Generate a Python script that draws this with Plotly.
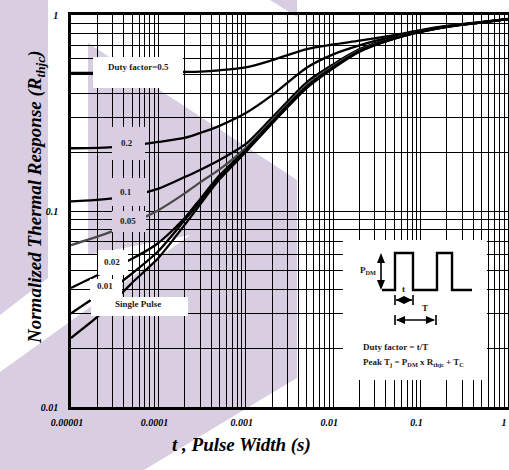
import plotly.graph_objects as go

# pulse width (s) sample points shared by all curves
t = [1e-5, 2e-5, 3e-5, 5e-5, 1e-4, 2e-4, 3e-4, 5e-4, 1e-3, 2e-3,
     5e-3, 1e-2, 2e-2, 5e-2, 0.1, 0.2, 0.5, 1.0]

z_05 = [0.506, 0.506, 0.507, 0.508, 0.51, 0.512, 0.514, 0.522, 0.54, 0.588,
        0.67, 0.707, 0.74, 0.79, 0.838, 0.879, 0.921, 0.954]
z_02 = [0.209, 0.21, 0.212, 0.216, 0.225, 0.236, 0.25, 0.272, 0.316, 0.39,
        0.54, 0.63, 0.70, 0.78, 0.832, 0.877, 0.919, 0.953]
z_01 = [0.112, 0.114, 0.116, 0.12, 0.13, 0.149, 0.162, 0.182, 0.22, 0.30,
        0.455, 0.56, 0.67, 0.77, 0.828, 0.875, 0.918, 0.953]
z_005 = [0.067, 0.074, 0.079, 0.087, 0.101, 0.123, 0.14, 0.163, 0.21, 0.29,
         0.44, 0.548, 0.66, 0.763, 0.824, 0.873, 0.917, 0.952]
z_002 = [0.0405, 0.047, 0.051, 0.057, 0.0687, 0.092, 0.115, 0.152, 0.205, 0.285,
         0.432, 0.541, 0.655, 0.76, 0.822, 0.872, 0.917, 0.952]
z_001 = [0.030, 0.0368, 0.0405, 0.048, 0.0625, 0.09, 0.112, 0.148, 0.202, 0.282,
         0.428, 0.538, 0.652, 0.758, 0.821, 0.871, 0.916, 0.952]
z_single = [0.0225, 0.0288, 0.0343, 0.043, 0.0576, 0.085, 0.108, 0.145, 0.2, 0.28,
            0.425, 0.535, 0.65, 0.757, 0.82, 0.871, 0.916, 0.952]

curves = [("0.5", z_05, "black"), ("0.2", z_02, "black"), ("0.1", z_01, "black"),
          ("0.05", z_005, "#4a4a4a"), ("0.02", z_002, "black"),
          ("0.01", z_001, "black"), ("Single Pulse", z_single, "black")]

x_decades = [1e-5, 1e-4, 1e-3, 1e-2, 1e-1, 1]
x_labels = ["0.00001", "0.0001", "0.001", "0.01", "0.1", "1"]
y_decades = [0.01, 0.1, 1]
y_labels = ["0.01", "0.1", "1"]

W, H = 509, 470
L, T, PW, PH = 71, 15, 437, 392
LAV = "#d9cee1"
SERIF = "Liberation Serif"


def X(p):
    return (p - L) / PW


def Y(p):
    return (T + PH - p) / PH


def path(pts, close=True):
    s = "M " + " L ".join(f"{X(a):.4f},{Y(b):.4f}" for a, b in pts)
    return s + (" Z" if close else "")


def log_ticks(decades, labels):
    vals, text = [], []
    for d, lab in zip(decades, labels):
        for m in range(1, 10):
            if d * m > decades[-1] * 1.0001:
                break
            vals.append(d * m)
            text.append(lab if m == 1 else " ")
    return vals, text


xv, xt = log_ticks(x_decades, x_labels)
yv, yt = log_ticks(y_decades, y_labels)

fig = go.Figure()
for name, z, col in curves:
    fig.add_scatter(x=t, y=z, mode="lines", name=name,
                    line=dict(color=col, width=2.3, shape="spline", smoothing=0.7))

shapes = []
# watermark in the background
for pts in [[(0, 0), (48, 0), (48, 278), (0, 315)],
            [(88, 43), (297, 180), (297, 378), (144, 470), (0, 470), (0, 372),
             (190, 235), (88, 255)],
            [(270, 0), (297, 0), (297, 17)]]:
    shapes.append(dict(type="path", path=path(pts), xref="paper", yref="paper",
                       fillcolor=LAV, line=dict(width=0), layer="below"))

# blank areas behind labels
for x0, x1, y0, y1, col in [(93, 183, 57, 88, "white"), (112, 145, 127, 160, LAV),
                            (112, 147, 178, 206, LAV), (112, 146, 211, 232, LAV),
                            (98, 128, 250, 275, "white"), (90, 122, 279, 300, "white"),
                            (91, 188, 297, 316, "white"), (343, 487, 240, 380, "white")]:
    shapes.append(dict(type="rect", xref="paper", yref="paper", x0=X(x0), x1=X(x1),
                       y0=Y(y1), y1=Y(y0), fillcolor=col, line=dict(width=0),
                       layer="above"))

# inset: pulse train and dimension arrows
ink = dict(color="black", width=2.4)
shapes.append(dict(type="path", xref="paper", yref="paper", layer="above", line=ink,
                   path=path([(382, 290), (395, 290), (395, 253), (413, 253), (413, 290),
                              (437, 290), (437, 253), (452, 253), (452, 290), (472, 290)],
                             close=False)))
thin = dict(color="black", width=1.6)
for seg in [[(381, 258), (381, 285)], [(396, 300), (412, 300)], [(397, 320), (434, 320)],
            [(395, 295), (395, 305)], [(413, 295), (413, 305)],
            [(395, 315), (395, 325)], [(436, 315), (436, 325)]]:
    shapes.append(dict(type="path", xref="paper", yref="paper", layer="above",
                       line=thin, path=path(seg, close=False)))
for tri in [[(381, 253), (377, 263), (385, 263)], [(381, 290), (377, 280), (385, 280)],
            [(396, 300), (404, 296), (404, 304)], [(412, 300), (404, 296), (404, 304)],
            [(396, 320), (405, 316), (405, 324)], [(435, 320), (426, 316), (426, 324)]]:
    shapes.append(dict(type="path", xref="paper", yref="paper", layer="above",
                       fillcolor="black", line=dict(width=0), path=path(tri)))

lab_font = dict(family=SERIF, size=9, color="#1a1a1a", weight="bold")
notes = [("Duty factor=0.5", 138, 67), ("0.2", 127, 143), ("0.1", 126, 192),
         ("0.05", 128, 221), ("0.02", 112, 262), ("0.01", 105, 286),
         ("Single Pulse", 138, 304), ("P<sub>DM</sub>", 368, 270), ("t", 403, 289),
         ("T", 425, 308)]
ann = [dict(text=s, x=X(a), y=Y(b), xref="paper", yref="paper", showarrow=False,
            font=lab_font, xanchor="center", yanchor="middle") for s, a, b in notes]
for s, b in [("Duty factor = t/T", 347),
             ("Peak T<sub>j</sub> = P<sub>DM</sub> x R<sub>thjc</sub> + T<sub>C</sub>", 362)]:
    ann.append(dict(text=s, x=X(361), y=Y(b), xref="paper", yref="paper",
                    showarrow=False, font=lab_font, xanchor="left", yanchor="middle"))

title_font = dict(family=SERIF, size=19, color="black", weight="bold", style="italic")
ann.append(dict(text="t , Pulse Width (s)", x=X(241), y=Y(458), xref="paper",
                yref="paper", showarrow=False, font=title_font))
ann.append(dict(text="Normalized Thermal Response (R<sub>thjc</sub>)", x=X(22), y=Y(197),
                xref="paper", yref="paper", showarrow=False, textangle=-90,
                font=title_font))

tick_font = dict(family=SERIF, size=10, color="black", weight="bold", style="italic")
axis = dict(type="log", showgrid=True, gridcolor="black", gridwidth=1,
            showline=True, linecolor="black", linewidth=2.5, mirror=True,
            ticks="", tickfont=tick_font, zeroline=False, automargin=False)

fig.update_layout(
    width=W, height=H, margin=dict(l=L, r=W - L - PW, t=T, b=H - T - PH),
    paper_bgcolor="white", plot_bgcolor="rgba(0,0,0,0)", showlegend=False,
    xaxis=dict(axis, range=[-5, 0], tickvals=xv, ticktext=xt, ticklabelstandoff=4,
               ticklabelshift=-4, tickangle=0),
    yaxis=dict(axis, range=[-2, 0], tickvals=yv, ticktext=yt, ticklabelstandoff=8),
    shapes=shapes, annotations=ann,
)

# drop the page's default body margin so the figure sits at the window corner
fig.write_html("out.html", config={"displayModeBar": False},
               post_script="document.body.style.margin = '0px';")
